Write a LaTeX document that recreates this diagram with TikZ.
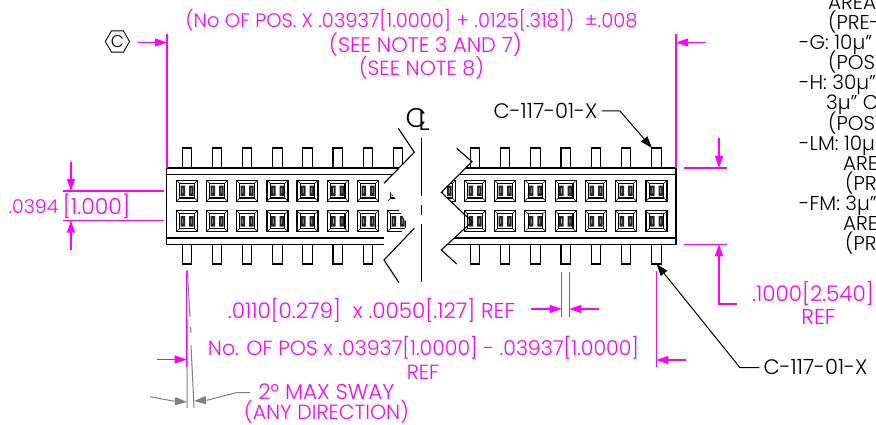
\documentclass[tikz,border=0pt]{standalone}
\usepackage{fontspec}
\setmainfont{Poppins}[UprightFont=* Light]
\definecolor{mag}{RGB}{255,0,255}
\definecolor{gry}{RGB}{128,128,128}
\usetikzlibrary{arrows.meta}
\newcommand{\fsz}[1]{\fontsize{#1}{#1}\selectfont}
\tikzset{
 x=1pt,y=-1pt,
 obj/.style={draw=black,line width=1.1pt},
 thin obj/.style={draw=black,line width=.5pt},
 dim/.style={draw=mag,line width=1.2pt},
 dimarr/.style={dim,-{Triangle[length=12pt,width=8pt]}},
 grayarr/.style={draw=gry,line width=1pt,-{Triangle[length=12pt,width=8pt]}},
 leadarr/.style={draw=black,line width=1pt,-{Triangle[length=12pt,width=8pt]}},
 magtext/.style={text=mag,inner sep=0pt,font=\fsz{20.5}},
 blacktext/.style={text=black,inner sep=0pt,font=\fsz{21}},
 notetext/.style={text=black,inner sep=0pt,anchor=base west,font=\fsz{20}},
 socket/.pic={
  \draw[obj] (-10.5,-10.5) rectangle (10.5,10.5);
  \draw[obj] (-7.3,-7.3) rectangle (7.3,7.3);
  \draw[thin obj] (-10.5,-10.5)--(-7.3,-7.3) (10.5,-10.5)--(7.3,-7.3) (-10.5,10.5)--(-7.3,7.3) (10.5,10.5)--(7.3,7.3);
  \fill[black!85] (-6.5,-5) rectangle (-2,5.5) (2,-5) rectangle (6.5,5.5);
  \fill[black!30] (-4.6,-2.5) rectangle (-3.9,2.5) (3.9,-2.5) rectangle (4.6,2.5);
 }
}
\begin{document}
\begin{tikzpicture}
\useasboundingbox (0,0) rectangle (876,425);
\foreach \px in {187,217,247,277.5,307.5,337.7,368,398}{
 \draw[obj] (\px-4.7,168)--(\px-4.7,148)--(\px+4.7,148)--(\px+4.7,168);
}
\foreach \px in {187,217,247,277.5,307.5,337.7,368}{
 \draw[obj] (\px-4.7,244.5)--(\px-4.7,264)--(\px+4.7,264)--(\px+4.7,244.5);
}
\foreach \px in {475,505,535.4,565.7,596,626,656.5}{
 \draw[obj] (\px-4.7,168)--(\px-4.7,148)--(\px+4.7,148)--(\px+4.7,168);
 \draw[obj] (\px-4.7,244.5)--(\px-4.7,264)--(\px+4.7,264)--(\px+4.7,244.5);
}
\draw[obj] (399,168)--(166.5,168)--(166.5,244.5)--(399,244.5) (392,174.5)--(166.5,174.5) (405,238)--(166.5,238);
\draw[obj] (466,168)--(676,168)--(676,244.5)--(447,244.5) (459,174.5)--(676,174.5) (454,238)--(676,238);
% white break area
\fill[white] (414.3,152.3)--(384,183.3)--(384,260)--(414.3,228.3)--(430,190)--cycle;
\fill[white] (472,161.7)--(441.3,192.3)--(472,221.7)--(441.3,250)--(430,250)--(430,160)--cycle;
% sockets
\foreach \px in {187,217,247,277.5,307.5,337.7,368}{
 \pic at (\px,190.7) {socket};
 \pic at (\px,221.2) {socket};
}
\foreach \px in {475,505,535.4,565.7,596,626,656.5}{
 \pic at (\px,190.7) {socket};
 \pic at (\px,221.2) {socket};
}
\begin{scope}
 \clip (384,209) -- (398,209) -- (408,225) -- (384,250) -- cycle;
 \pic at (398,221.2) {socket};
\end{scope}
\begin{scope}
 \clip (388,189) -- (397,201) -- (388,201) -- cycle;
 \pic at (398,190.7) {socket};
\end{scope}
\begin{scope}
 \clip (441.3,192.3) -- (456,178) -- (456,206) -- cycle;
 \pic at (445,190.7) {socket};
\end{scope}
% break lines
\coordinate (bl1) at (398.3,128.3); \coordinate (bl2) at (414.3,152.3); \coordinate (bl3) at (384,183.3);
\coordinate (bl4) at (414.3,228.3); \coordinate (bl5) at (384,260); \coordinate (bl6) at (399,282.7);
\draw[obj] (bl1)--(bl2)--(bl3) (bl4)--(bl5)--(bl6);
\draw[obj] (456.7,148.3)--(472,161.7)--(441.3,192.3)--(472,221.7)--(441.3,250)--(456.7,264);
% centre line
\draw[obj] (421.3,138)--(421.3,196) (421.3,205)--(421.3,215) (421.3,224)--(421.3,281.7);
\node[blacktext,font=\fsz{27}] (cl1) at (416,118) {C};
\node[blacktext,font=\fsz{27}] (cl2) at (424,121) {L};
% hexagon
\node[blacktext,font=\fsz{17}] (hexc) at (117.5,41.5) {C};
\draw[draw=black,line width=.9pt] (105.3,41.5)--(111.5,30.9)--(123.5,30.9)--(129.5,41.5)--(123.5,52.1)--(111.5,52.1)--cycle;
% top dims
\coordinate (tl1) at (167,34); \coordinate (tl2) at (167,168);
\coordinate (tr1) at (676,34); \coordinate (tr2) at (676,168);
\draw[dim] (tl1)--(tl2) (tr1)--(tr2);
\coordinate (a1) at (137.7,42.5); \coordinate (a1e) at (167,42.5);
\coordinate (a2) at (706,42.5); \coordinate (a2e) at (676,42.5);
\draw[dimarr] (a1)--(a1e); \draw[dimarr] (a2)--(a2e);
\node[magtext,font=\fsz{19.5}] (t1) at (411.5,20) {(No OF POS. X .03937[1.0000] + .0125[.318])\ \ ±.008};
\node[magtext,font=\fsz{21}] (t2) at (425.5,45) {(SEE NOTE 3 AND 7)};
\node[magtext] (t3) at (421.5,68) {(SEE NOTE 8)};
% .0394
\draw[dim] (63,191)--(164,191) (63,220.7)--(164,220.7);
\coordinate (b1) at (71,162); \coordinate (b1e) at (71,191);
\coordinate (b2) at (71,250); \coordinate (b2e) at (71,220.7);
\draw[dimarr] (b1)--(b1e); \draw[dimarr] (b2)--(b2e);
\node[magtext,font=\fsz{19}] (t4) at (33.5,207) {.0394};
\node[magtext,font=\fsz{22}] (t5) at (96.5,206) {[1.000]};
% right height dim
\draw[dim] (683.6,168)--(727,168) (683.6,244.3)--(727,244.3);
\coordinate (c1) at (719,138); \coordinate (c1e) at (719,168);
\draw[dimarr] (c1)--(c1e);
\coordinate (c2) at (736.7,304); \coordinate (c3) at (719,304); \coordinate (c3e) at (719,244.3);
\draw[dimarr] (c2)--(c3)--(c3e);
\node[magtext,font=\fsz{21.5}] (t6) at (813,293) {.1000[2.540]};
\node[magtext,font=\fsz{21.5}] (t7) at (818.5,317) {REF};
% lead width
\draw[dim] (561.7,271.7)--(561.7,316.7) (569.3,271.7)--(569.3,316.7);
\coordinate (d1) at (531,309); \coordinate (d1e) at (561.7,309);
\coordinate (d2) at (599,309); \coordinate (d2e) at (569.3,309);
\draw[dimarr] (d1)--(d1e); \draw[dimarr] (d2)--(d2e);
\node[magtext,font=\fsz{21.5}] (t8) at (371.5,310) {.0110[0.279]\ \ x .0050[.127] REF};
% pos dim
\draw[dim] (656.3,271)--(656.3,367);
\coordinate (e2) at (686,360); \coordinate (e2e) at (656.3,360);
\draw[dimarr] (e2)--(e2e);
\node[magtext] (t9) at (423.5,348) {No. OF POS x .03937[1.0000] - .03937[1.0000]};
\node[magtext] (t10) at (423,372) {REF};
% sway
\draw[draw=gry,line width=1pt] (187.3,270)--(190,316.7) (190.6,327)--(191,333) (191,345)--(194,408) (187,320)--(187,408);
\draw[dim] (186.7,271)--(186.7,367);
\coordinate (f1) at (157,359.5); \coordinate (f1e) at (186.7,359.5);
\draw[dimarr] (f1)--(f1e);
\coordinate (g1) at (150,396.7); \coordinate (g2) at (173,401); \coordinate (g3) at (187,402);
\draw[grayarr] (g1)--(g2)--(g3);
\coordinate (h1) at (250,392.7); \coordinate (h2) at (236,392.7); \coordinate (h3) at (208,400); \coordinate (h4) at (194,401);
\draw[grayarr] (h1)--(h2)--(h3)--(h4);
\node[magtext,font=\fsz{21.5}] (t11) at (326.5,392) {2° MAX SWAY};
\node[magtext] (t12) at (326.5,412) {(ANY DIRECTION)};
% leaders
\node[blacktext] (l1) at (545.5,111) {C-117-01-X};
\coordinate (l1a) at (620,111); \coordinate (l1b) at (652,148);
\draw[leadarr] (l1.east)++(4,0)--(l1a)--(l1b);
\node[blacktext] (l2) at (815.5,367) {C-117-01-X};
\coordinate (l2a) at (740,367.7); \coordinate (l2b) at (656.5,264);
\draw[leadarr] (l2.west)++(-4,0.7)--(l2a)--(l2b);
% notes (run off the sheet)
\node[notetext] (n1) at (828,9.5) {AREA};
\node[notetext] (n2) at (828,29.6) {(PRE-};
\node[notetext] (n3) at (799,49.7) {-G: 10µ"};
\node[notetext] (n4) at (828,69.8) {(POST};
\node[notetext] (n5) at (799,89.9) {-H: 30µ"};
\node[notetext] (n6) at (826,110) {3µ" C};
\node[notetext] (n7) at (828,130.1) {(POST};
\node[notetext] (n8) at (799,150.2) {-LM: 10µ};
\node[notetext] (n9) at (843,170.3) {ARE};
\node[notetext] (n10) at (845,190.4) {(PR};
\node[notetext] (n11) at (799,210.5) {-FM: 3µ"};
\node[notetext] (n12) at (843,230.6) {ARE};
\node[notetext] (n13) at (845,250.7) {(PR};
\end{tikzpicture}
\end{document}
